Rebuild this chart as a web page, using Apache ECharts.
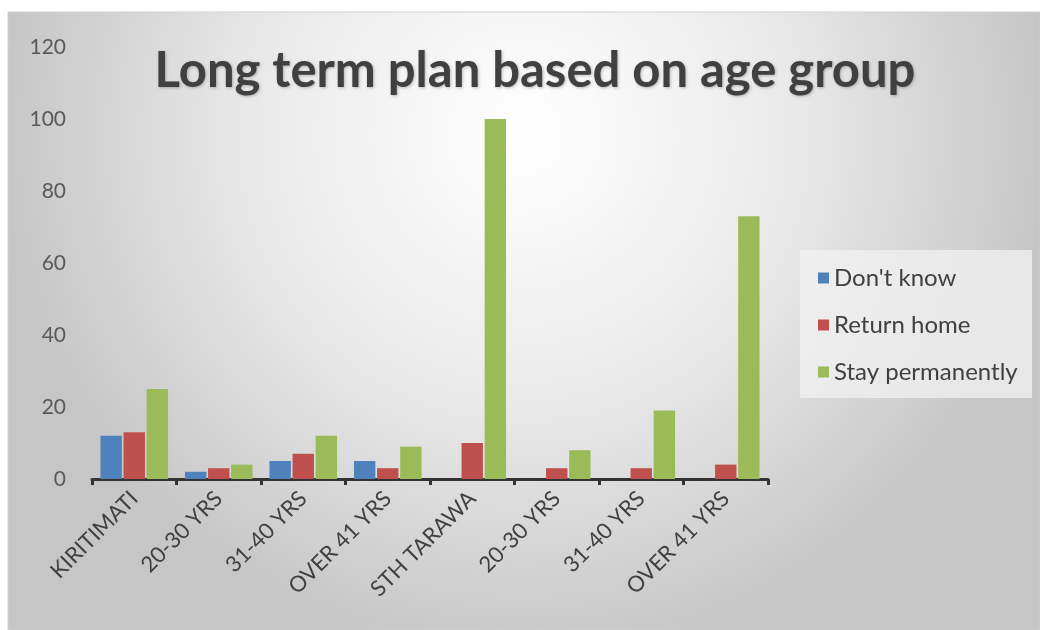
<!DOCTYPE html>
<html>
<head>
<meta charset="utf-8">
<script src="https://cdn.jsdelivr.net/npm/echarts@6/dist/echarts.min.js"></script>
<style>
  html, body { margin: 0; padding: 0; background: #fff; }
  #chart { width: 1040px; height: 630px; }
</style>
</head>
<body>
<div id="chart"></div>
<script>
// 데이터
const categories = ['KIRITIMATI', '20-30 YRS', '31-40 YRS', 'OVER 41 YRS', 'STH TARAWA', '20-30 YRS', '31-40 YRS', 'OVER 41 YRS'];
const dontKnow = [12, 2, 5, 5, 0, 0, 0, 0];
const returnHome = [13, 3, 7, 3, 10, 3, 3, 4];
const stayPermanently = [25, 4, 12, 9, 100, 8, 19, 73];
const yTicks = [0, 20, 40, 60, 80, 100, 120];

const chart = echarts.init(document.getElementById('chart'));

const labelFont = 'Lato, "Open Sans", sans-serif';

const option = {
    backgroundColor: '#ffffff',
    animation: false,
    graphic: [{
        type: 'rect',
        z: -10,
        silent: true,
        shape: { x: 8, y: 12, width: 1032, height: 618 },
        style: {
            fill: {
                type: 'radial', x: 0.5, y: 0.2, r: 0.85,
                colorStops: [
                    { offset: 0, color: '#ffffff' },
                    { offset: 0.5, color: '#eaeaea' },
                    { offset: 1, color: '#c6c6c6' }
                ]
            },
            stroke: '#cfcfcf', lineWidth: 1
        }
    }, {
        type: 'rect',
        z: -5,
        silent: true,
        shape: { x: 800, y: 250, width: 232, height: 148 },
        style: { fill: 'rgba(242,242,242,0.75)' }
    }],
    title: {
        text: 'Long term plan based on age group',
        left: 530,
        top: 42,
        textAlign: 'center',
        textStyle: {
            fontFamily: labelFont,
            fontSize: 49,
            fontWeight: 'bold',
            color: '#404040',
            textShadowColor: 'rgba(0,0,0,0.25)',
            textShadowBlur: 3,
            textShadowOffsetX: 1,
            textShadowOffsetY: 1
        }
    },
    legend: {
        orient: 'vertical',
        left: 813,
        top: 261,
        itemWidth: 11,
        itemHeight: 11,
        itemGap: 23,
        icon: 'rect',
        textStyle: { fontFamily: labelFont, fontSize: 24, color: '#404040' },
        data: ["Don't know", 'Return home', 'Stay permanently']
    },
    grid: { left: 92, right: 272, top: 47, bottom: 151 },
    xAxis: {
        type: 'category',
        data: categories,
        axisLine: { lineStyle: { color: '#333333', width: 3 } },
        axisTick: { show: true, length: 6, lineStyle: { color: '#333333', width: 3 } },
        axisLabel: {
            rotate: 45,
            interval: 0,
            margin: 16,
            fontFamily: labelFont,
            fontSize: 22,
            color: '#404040'
        }
    },
    yAxis: {
        type: 'value',
        min: yTicks[0],
        max: yTicks[yTicks.length - 1],
        interval: 20,
        axisLine: { show: false },
        axisTick: { show: false },
        splitLine: { show: false },
        axisLabel: {
            margin: 26,
            fontFamily: labelFont,
            fontSize: 21,
            color: '#595959'
        }
    },
    series: [
        { name: "Don't know", type: 'bar', data: dontKnow, itemStyle: { color: '#4f81bd' }, barGap: '8%', barCategoryGap: '20%' },
        { name: 'Return home', type: 'bar', data: returnHome, itemStyle: { color: '#c0504d' } },
        { name: 'Stay permanently', type: 'bar', data: stayPermanently, itemStyle: { color: '#9bbb59' } }
    ]
};

chart.setOption(option);
</script>
</body>
</html>
